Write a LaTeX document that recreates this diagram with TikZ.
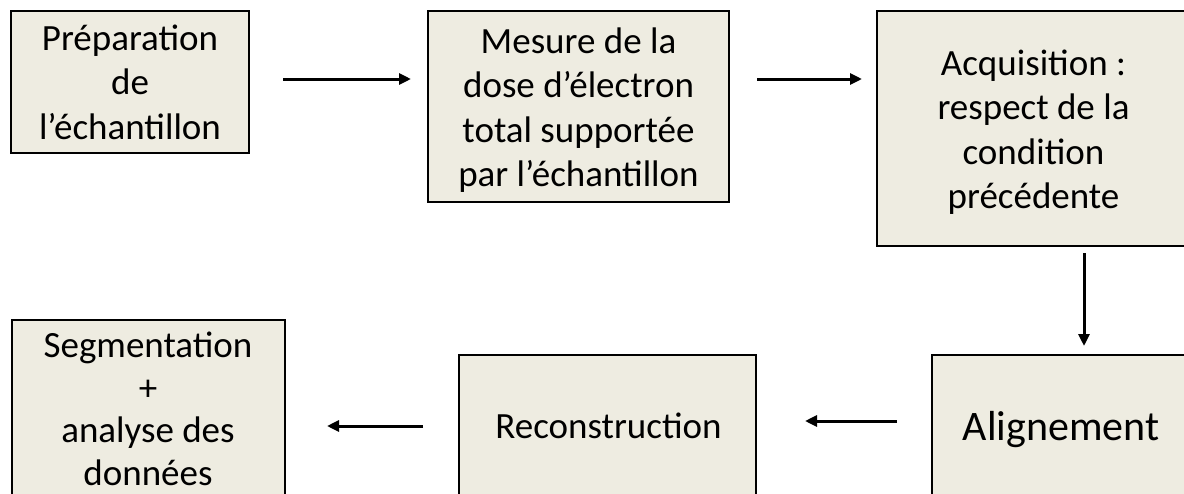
\documentclass[tikz,border=0pt]{standalone}
\usepackage{fontspec}
\setmainfont{Carlito}
\usetikzlibrary{arrows.meta}
\definecolor{boxfill}{HTML}{EEECE1}
\begin{document}
\begin{tikzpicture}[x=1pt,y=-1pt,
  box/.style={draw=black, line width=2.8pt, fill=boxfill, inner sep=0pt, outer sep=0pt,
    anchor=north west, align=center, font=\fontsize{37}{44.5}\selectfont},
  txt/.style={inner sep=0pt, outer sep=0pt, align=center, font=\fontsize{37}{44.5}\selectfont},
  arr/.style={line width=3pt, -{Triangle[length=12pt,width=11pt]}}]
\useasboundingbox (0,0) rectangle (1184,493);
\clip (0,0) rectangle (1184,493);
\fill[white] (0,0) rectangle (1184,493);
% top row
\node[box, minimum width=238pt, minimum height=142pt] (b1) at (11,11) {Préparation\\de\\l’échantillon};
\node[box, minimum width=301pt, minimum height=191pt] (b2) at (428,11) {};
\node[txt] (t2) at (578.5,110) {Mesure de la\\dose d’électron\\total supportée\\par l’échantillon};
\node[box, minimum width=313pt, minimum height=235pt] (b3) at (877,11) {};
\node[txt] (t3) at (1033.5,132) {Acquisition :\\respect de la\\condition\\précédente};
% bottom row
\node[box, minimum width=258pt, minimum height=150pt] (b4) at (932,355) {};
\node[txt, anchor=base, font=\fontsize{42}{50}\selectfont] (t4) at (1061,440) {Alignement};
\node[box, minimum width=297pt, minimum height=150pt] (b5) at (459,355) {};
\node[txt, anchor=base] (t5) at (608.5,438) {Reconstruction};
\node[box, minimum width=273pt, minimum height=185pt] (b6) at (12,320) {};
\node[txt, anchor=north, font=\fontsize{37}{42.5}\selectfont] (t6) at (148,332) {Segmentation\\+\\analyse des\\données};
% connectors
\draw[arr, shorten <=34pt, shorten >=17pt] (b1.east |- 0,79) -- (b2.west |- 0,79);
\draw[arr, shorten <=28pt, shorten >=15pt] (b2.east |- 0,79) -- (b3.west |- 0,79);
\draw[arr, shorten <=7pt, shorten >=9pt] (b3.south -| 1084,0) -- (b4.north -| 1084,0);
\draw[arr, shorten <=35pt, shorten >=49pt] (b4.west |- 0,421) -- (b5.east |- 0,421);
\draw[arr, shorten <=36pt, shorten >=42pt] (b5.west |- 0,426) -- (b6.east |- 0,426);
\end{tikzpicture}
\end{document}
